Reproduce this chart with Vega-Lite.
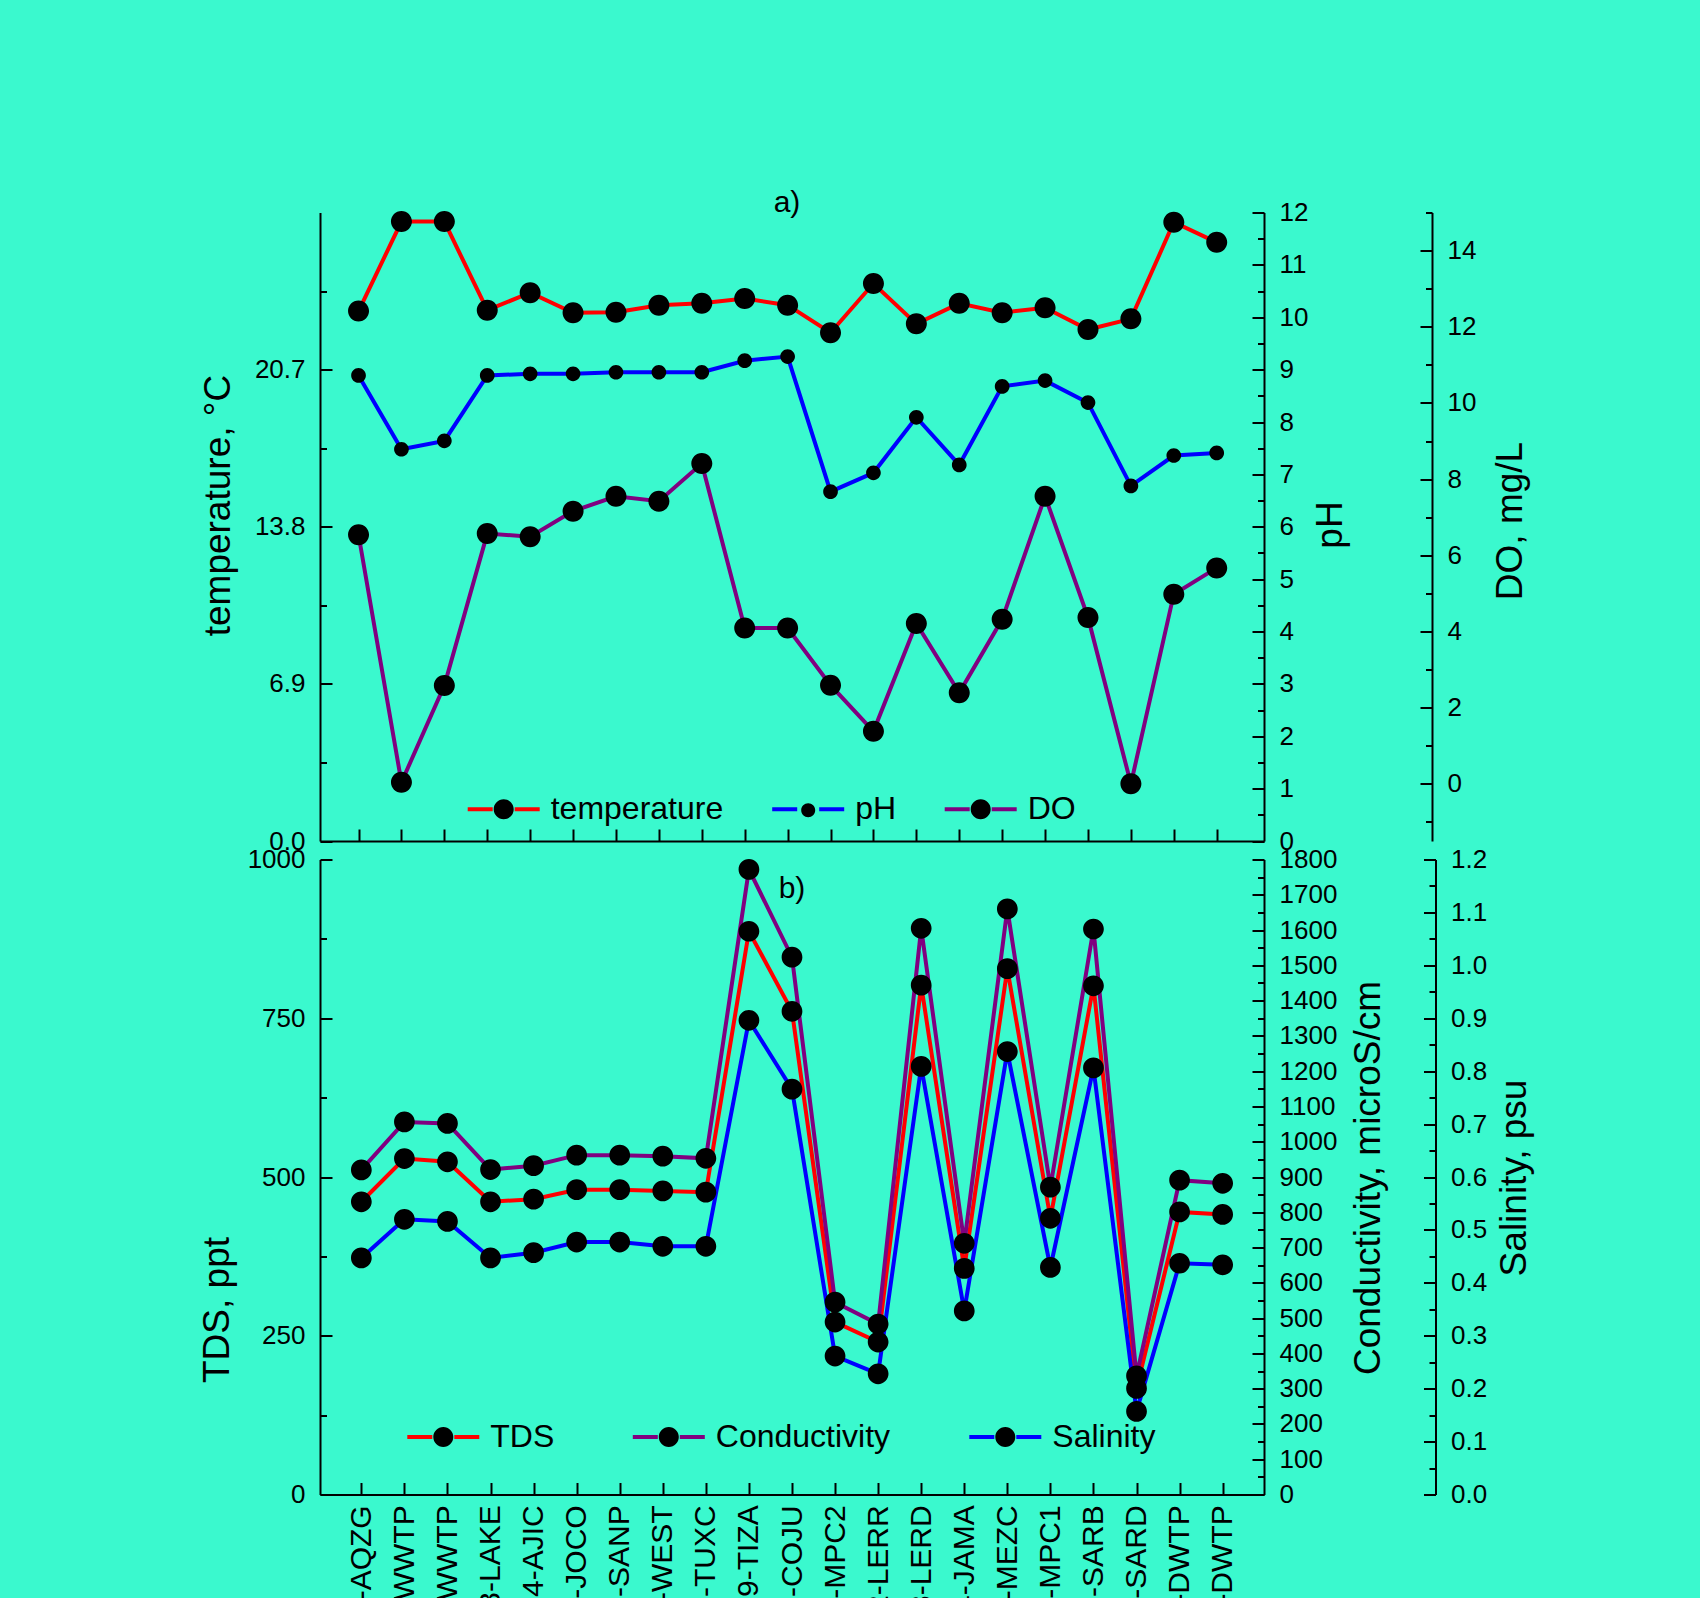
{
  "$schema": "https://vega.github.io/schema/vega-lite/v6.json",
  "background": "#3AF9CE",
  "autosize": {"type": "pad"},
  "padding": {"left": 198, "top": 187.5, "right": 200, "bottom": 0},
  "data": {"values": [
    {"site": "1-AQZG", "temperature": 23.27, "pH": 8.89, "DO": 6.54, "TDS": 461, "Conductivity": 920, "Salinity": 0.447},
    {"site": "2a-WWTP", "temperature": 27.2, "pH": 7.48, "DO": 0.04, "TDS": 529, "Conductivity": 1056, "Salinity": 0.52},
    {"site": "2b-WWTP", "temperature": 27.2, "pH": 7.64, "DO": 2.58, "TDS": 524, "Conductivity": 1052, "Salinity": 0.516},
    {"site": "3-LAKE", "temperature": 23.31, "pH": 8.89, "DO": 6.57, "TDS": 461, "Conductivity": 921, "Salinity": 0.447},
    {"site": "4-AJIC", "temperature": 24.08, "pH": 8.92, "DO": 6.49, "TDS": 465, "Conductivity": 932, "Salinity": 0.457},
    {"site": "5-JOCO", "temperature": 23.2, "pH": 8.92, "DO": 7.16, "TDS": 480, "Conductivity": 962, "Salinity": 0.477},
    {"site": "6-SANP", "temperature": 23.22, "pH": 8.95, "DO": 7.55, "TDS": 480, "Conductivity": 962, "Salinity": 0.477},
    {"site": "7-WEST", "temperature": 23.53, "pH": 8.95, "DO": 7.42, "TDS": 478, "Conductivity": 959, "Salinity": 0.469},
    {"site": "8-TUXC", "temperature": 23.61, "pH": 8.95, "DO": 8.41, "TDS": 476, "Conductivity": 953, "Salinity": 0.469},
    {"site": "9-TIZA", "temperature": 23.82, "pH": 9.17, "DO": 4.09, "TDS": 887, "Conductivity": 1772, "Salinity": 0.896},
    {"site": "10-COJU", "temperature": 23.53, "pH": 9.25, "DO": 4.09, "TDS": 761, "Conductivity": 1523, "Salinity": 0.766},
    {"site": "11-MPC2", "temperature": 22.32, "pH": 6.67, "DO": 2.59, "TDS": 271.5, "Conductivity": 545, "Salinity": 0.2615},
    {"site": "12-LERR", "temperature": 24.48, "pH": 7.03, "DO": 1.38, "TDS": 240, "Conductivity": 483, "Salinity": 0.228},
    {"site": "13-LERD", "temperature": 22.71, "pH": 8.09, "DO": 4.21, "TDS": 802, "Conductivity": 1605, "Salinity": 0.809},
    {"site": "14-JAMA", "temperature": 23.61, "pH": 7.18, "DO": 2.39, "TDS": 356, "Conductivity": 712, "Salinity": 0.347},
    {"site": "15-MEZC", "temperature": 23.2, "pH": 8.68, "DO": 4.32, "TDS": 828, "Conductivity": 1660, "Salinity": 0.837},
    {"site": "16-MPC1", "temperature": 23.42, "pH": 8.79, "DO": 7.55, "TDS": 435, "Conductivity": 871, "Salinity": 0.429},
    {"site": "17-SARB", "temperature": 22.46, "pH": 8.37, "DO": 4.37, "TDS": 801, "Conductivity": 1603, "Salinity": 0.806},
    {"site": "18-SARD", "temperature": 22.93, "pH": 6.78, "DO": 0.0, "TDS": 167, "Conductivity": 336, "Salinity": 0.157},
    {"site": "19-DWTP", "temperature": 27.17, "pH": 7.36, "DO": 4.98, "TDS": 445, "Conductivity": 891, "Salinity": 0.437},
    {"site": "20-DWTP", "temperature": 26.29, "pH": 7.41, "DO": 5.67, "TDS": 441, "Conductivity": 882, "Salinity": 0.434}
  ]},
  "config": {
    "view": {"stroke": null},
    "axis": {
      "grid": false,
      "domainColor": "black", "domainWidth": 2,
      "tickColor": "black", "tickWidth": 2, "tickSize": -12,
      "labelColor": "black", "labelFont": "Liberation Sans", "labelFontSize": 26, "labelPadding": 27,
      "labelOverlap": false, "labelFlush": false, "labelBound": false,
      "titleColor": "black", "titleFont": "Liberation Sans", "titleFontSize": 37, "titleFontWeight": "normal",
      "titleAngle": -90, "titleAlign": "center", "titleBaseline": "middle"
    },
    "title": {"font": "Liberation Sans", "fontSize": 30, "fontWeight": "normal", "color": "black", "anchor": "middle", "frame": "group", "offset": 0},
    "legend": {"padding": 0, "labelFont": "Liberation Sans", "labelFontSize": 32, "labelColor": "black", "labelOffset": 31, "labelLimit": 0, "symbolSize": 400}
  },
  "spacing": 18,
  "bounds": "flush",
  "resolve": {"scale": {"color": "independent", "shape": "independent"}},
  "vconcat": [
    {
      "width": 944,
      "height": 628.5,
      "title": {"text": "a)", "dy": 22, "dx": -5},
      "encoding": {
        "x": {"field": "site", "type": "nominal", "sort": null, "title": null,
              "scale": {"type": "point", "padding": 1.127, "align": 0.449},
              "axis": {"orient": "bottom", "labels": false}}
      },
      "layer": [
        {"mark": {"type": "line", "strokeWidth": 4},
         "encoding": {
           "y": {"field": "temperature", "type": "quantitative", "scale": {"domain": [0, 27.6], "nice": false, "zero": false},
                 "axis": {"orient": "left", "values": [0, 6.9, 13.8, 20.7], "format": ".1f", "title": "temperature, °C", "titleX": -102, "titleY": 292.5}},
           "color": {"datum": "temperature", "type": "nominal",
                     "scale": {"domain": ["temperature", "pH", "DO"], "range": ["#ff0000", "#0000ff", "#800080"]},
                     "legend": {"orient": "none", "legendX": 167.7, "legendY": 580.8, "direction": "horizontal", "columns": 3, "columnPadding": 40.5,
                                "symbolType": "M-3.6,0L-1.1,0M1.1,0L3.6,0", "symbolSize": 400, "symbolStrokeWidth": 4, "labelOffset": 31, "title": null}}
         }},
        {"mark": {"type": "line", "strokeWidth": 4},
         "encoding": {
           "y": {"field": "pH", "type": "quantitative", "scale": {"domain": [0, 12], "nice": false, "zero": false},
                 "axis": {"orient": "right", "values": [0, 1, 2, 3, 4, 5, 6, 7, 8, 9, 10, 11, 12], "format": "d", "title": "pH", "titleX": 66.7, "titleY": 312}},
           "color": {"datum": "pH", "type": "nominal"}
         }},
        {"mark": {"type": "line", "strokeWidth": 4},
         "encoding": {
           "y": {"field": "DO", "type": "quantitative", "scale": {"domain": [-1.5, 15], "nice": false, "zero": false},
                 "axis": {"orient": "right", "offset": 168, "values": [0, 2, 4, 6, 8, 10, 12, 14], "format": "d", "title": "DO, mg/L", "titleX": 78.3, "titleY": 308}},
           "color": {"datum": "DO", "type": "nominal"}
         }},
        {"mark": {"type": "point", "filled": true, "color": "black", "opacity": 1, "size": 441, "strokeWidth": 0},
         "encoding": {
           "y": {"field": "temperature", "type": "quantitative", "scale": {"domain": [0, 27.6], "nice": false, "zero": false}, "axis": null},
           "shape": {"datum": "s-temperature", "type": "nominal",
                     "scale": {"domain": ["s-temperature", "s-pH", "s-DO"],
                               "range": ["M-3.6,0L-1.1,0M1.1,0L3.6,0M1,0A1,1,0,1,1,-1,0A1,1,0,1,1,1,0Z",
                                         "M-3.6,0L-1.1,0M1.1,0L3.6,0M0.7,0A0.7,0.7,0,1,1,-0.7,0A0.7,0.7,0,1,1,0.7,0Z",
                                         "M-3.6,0L-1.1,0M1.1,0L3.6,0M1,0A1,1,0,1,1,-1,0A1,1,0,1,1,1,0Z"]},
                     "legend": {"orient": "none", "legendX": 167.7, "legendY": 580.8, "direction": "horizontal", "columns": 3, "columnPadding": 40.5,
                                "symbolSize": 400, "symbolStrokeWidth": 4, "symbolStrokeColor": "transparent", "symbolFillColor": "black", "symbolOpacity": 1,
                                "labelColor": "transparent", "labelOffset": 31, "labelExpr": "slice(datum.label, 2)", "title": null}}
         }},
        {"mark": {"type": "point", "filled": true, "color": "black", "opacity": 1, "size": 441, "strokeWidth": 0},
         "encoding": {
           "y": {"field": "pH", "type": "quantitative", "scale": {"domain": [0, 12], "nice": false, "zero": false}, "axis": null},
           "shape": {"datum": "s-pH", "type": "nominal"}
         }},
        {"mark": {"type": "point", "filled": true, "color": "black", "opacity": 1, "size": 441, "strokeWidth": 0},
         "encoding": {
           "y": {"field": "DO", "type": "quantitative", "scale": {"domain": [-1.5, 15], "nice": false, "zero": false}, "axis": null},
           "shape": {"datum": "s-DO", "type": "nominal"}
         }},
        {"mark": {"type": "point", "opacity": 0},
         "encoding": {
           "y": {"field": "temperature", "type": "quantitative", "scale": {"domain": [0, 27.6], "nice": false, "zero": false},
                 "axis": {"orient": "left", "values": [3.45, 10.35, 17.25, 24.15], "tickSize": -6.5, "labels": false, "domain": false, "title": null}}
         }},
        {"mark": {"type": "point", "opacity": 0},
         "encoding": {
           "y": {"field": "pH", "type": "quantitative", "scale": {"domain": [0, 12], "nice": false, "zero": false},
                 "axis": {"orient": "right", "values": [0.5, 1.5, 2.5, 3.5, 4.5, 5.5, 6.5, 7.5, 8.5, 9.5, 10.5, 11.5], "tickSize": -6.5, "labels": false, "domain": false, "title": null}}
         }},
        {"mark": {"type": "point", "opacity": 0},
         "encoding": {
           "y": {"field": "DO", "type": "quantitative", "scale": {"domain": [-1.5, 15], "nice": false, "zero": false},
                 "axis": {"orient": "right", "offset": 168, "values": [-1, 1, 3, 5, 7, 9, 11, 13, 15], "tickSize": -6.5, "labels": false, "domain": false, "title": null}}
         }}
      ],
      "resolve": {"scale": {"y": "independent"}}
    },
    {
      "width": 944,
      "height": 635,
      "title": {"text": "b)", "dy": 61},
      "encoding": {
        "x": {"field": "site", "type": "nominal", "sort": null, "title": null,
              "scale": {"type": "point", "padding": 0.96, "align": 0.5},
              "axis": {"orient": "bottom", "labelAngle": -90, "labelFontSize": 30, "labelPadding": 22.3}}
      },
      "layer": [
        {"mark": {"type": "line", "strokeWidth": 4},
         "encoding": {
           "y": {"field": "TDS", "type": "quantitative", "scale": {"domain": [0, 1000], "nice": false, "zero": false},
                 "axis": {"orient": "left", "values": [0, 250, 500, 750, 1000], "format": "d", "title": "TDS, ppt", "titleX": -102.5, "titleY": 450}},
           "color": {"datum": "TDS", "type": "nominal",
                     "scale": {"domain": ["TDS", "Conductivity", "Salinity"], "range": ["#ff0000", "#800080", "#0000ff"]},
                     "legend": {"orient": "none", "legendX": 107.3, "legendY": 561.4, "direction": "horizontal", "columns": 3, "columnPadding": 70.5,
                                "symbolType": "M-3.6,0L-1.1,0M1.1,0L3.6,0", "symbolSize": 400, "symbolStrokeWidth": 4, "labelOffset": 31, "title": null}}
         }},
        {"mark": {"type": "line", "strokeWidth": 4},
         "encoding": {
           "y": {"field": "Conductivity", "type": "quantitative", "scale": {"domain": [0, 1800], "nice": false, "zero": false},
                 "axis": {"orient": "right", "values": [0, 100, 200, 300, 400, 500, 600, 700, 800, 900, 1000, 1100, 1200, 1300, 1400, 1500, 1600, 1700, 1800], "format": "d", "title": "Conductivity, microS/cm", "titleX": 104, "titleY": 318}},
           "color": {"datum": "Conductivity", "type": "nominal"}
         }},
        {"mark": {"type": "line", "strokeWidth": 4},
         "encoding": {
           "y": {"field": "Salinity", "type": "quantitative", "scale": {"domain": [0, 1.2], "nice": false, "zero": false},
                 "axis": {"orient": "right", "offset": 171.5, "values": [0, 0.1, 0.2, 0.3, 0.4, 0.5, 0.6, 0.7, 0.8, 0.9, 1.0, 1.1, 1.2], "format": ".1f", "title": "Salinity, psu", "titleX": 79, "titleY": 318}},
           "color": {"datum": "Salinity", "type": "nominal"}
         }},
        {"mark": {"type": "point", "filled": true, "color": "black", "opacity": 1, "size": 430, "strokeWidth": 0},
         "encoding": {
           "y": {"field": "TDS", "type": "quantitative", "scale": {"domain": [0, 1000], "nice": false, "zero": false}, "axis": null},
           "shape": {"datum": "s-TDS", "type": "nominal",
                     "scale": {"domain": ["s-TDS", "s-Conductivity", "s-Salinity"],
                               "range": ["M-3.6,0L-1.1,0M1.1,0L3.6,0M1,0A1,1,0,1,1,-1,0A1,1,0,1,1,1,0Z",
                                         "M-3.6,0L-1.1,0M1.1,0L3.6,0M1,0A1,1,0,1,1,-1,0A1,1,0,1,1,1,0Z",
                                         "M-3.6,0L-1.1,0M1.1,0L3.6,0M1,0A1,1,0,1,1,-1,0A1,1,0,1,1,1,0Z"]},
                     "legend": {"orient": "none", "legendX": 107.3, "legendY": 561.4, "direction": "horizontal", "columns": 3, "columnPadding": 70.5,
                                "symbolSize": 400, "symbolStrokeWidth": 4, "symbolStrokeColor": "transparent", "symbolFillColor": "black", "symbolOpacity": 1,
                                "labelColor": "transparent", "labelOffset": 31, "labelExpr": "slice(datum.label, 2)", "title": null}}
         }},
        {"mark": {"type": "point", "filled": true, "color": "black", "opacity": 1, "size": 430, "strokeWidth": 0},
         "encoding": {
           "y": {"field": "Conductivity", "type": "quantitative", "scale": {"domain": [0, 1800], "nice": false, "zero": false}, "axis": null},
           "shape": {"datum": "s-Conductivity", "type": "nominal"}
         }},
        {"mark": {"type": "point", "filled": true, "color": "black", "opacity": 1, "size": 430, "strokeWidth": 0},
         "encoding": {
           "y": {"field": "Salinity", "type": "quantitative", "scale": {"domain": [0, 1.2], "nice": false, "zero": false}, "axis": null},
           "shape": {"datum": "s-Salinity", "type": "nominal"}
         }},
        {"mark": {"type": "point", "opacity": 0},
         "encoding": {
           "y": {"field": "TDS", "type": "quantitative", "scale": {"domain": [0, 1000], "nice": false, "zero": false},
                 "axis": {"orient": "left", "values": [125, 375, 625, 875], "tickSize": -6.5, "labels": false, "domain": false, "title": null}}
         }},
        {"mark": {"type": "point", "opacity": 0},
         "encoding": {
           "y": {"field": "Conductivity", "type": "quantitative", "scale": {"domain": [0, 1800], "nice": false, "zero": false},
                 "axis": {"orient": "right", "values": [50, 150, 250, 350, 450, 550, 650, 750, 850, 950, 1050, 1150, 1250, 1350, 1450, 1550, 1650, 1750], "tickSize": -6.5, "labels": false, "domain": false, "title": null}}
         }},
        {"mark": {"type": "point", "opacity": 0},
         "encoding": {
           "y": {"field": "Salinity", "type": "quantitative", "scale": {"domain": [0, 1.2], "nice": false, "zero": false},
                 "axis": {"orient": "right", "offset": 171.5, "values": [0.05, 0.15, 0.25, 0.35, 0.45, 0.55, 0.65, 0.75, 0.85, 0.95, 1.05, 1.15], "tickSize": -6.5, "labels": false, "domain": false, "title": null}}
         }}
      ],
      "resolve": {"scale": {"y": "independent"}}
    }
  ]
}
